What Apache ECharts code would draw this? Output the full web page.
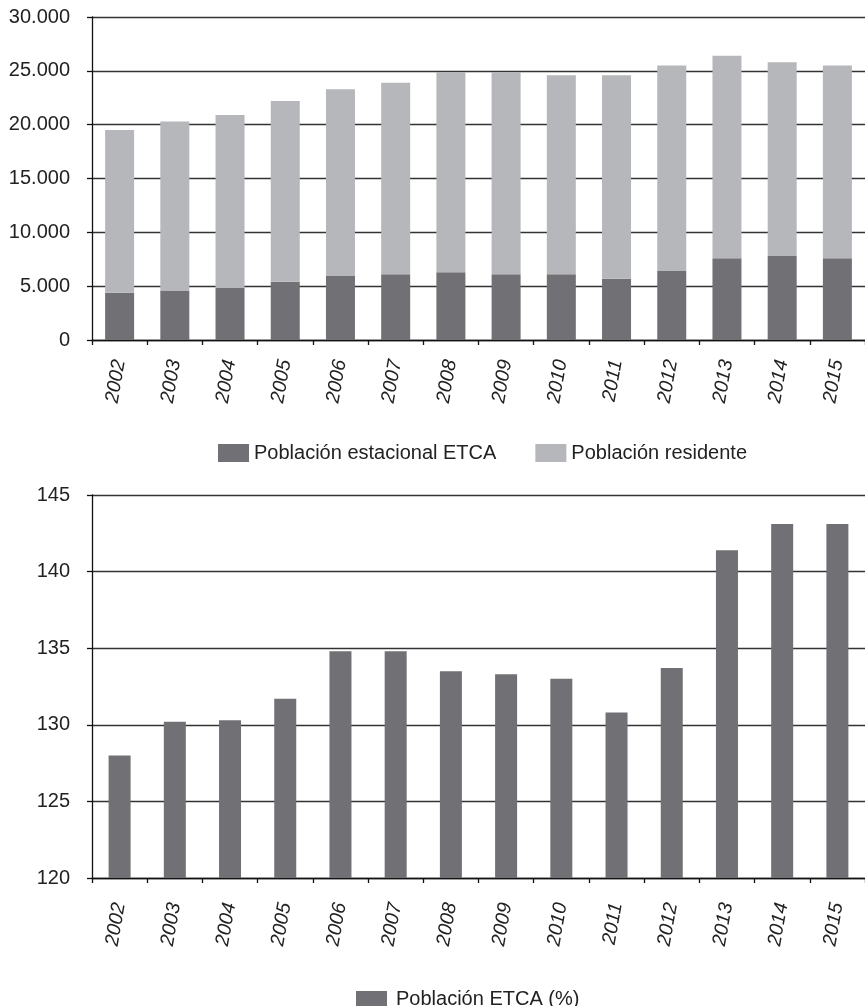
<!DOCTYPE html>
<html>
<head>
<meta charset="utf-8">
<script src="https://cdn.jsdelivr.net/npm/echarts@6/dist/echarts.min.js"></script>
<style>
html,body{margin:0;padding:0;background:#fff;}
#c{width:865px;height:1006px;}
</style>
</head>
<body>
<div id="c"></div>
<script>
const years = ['2002','2003','2004','2005','2006','2007','2008','2009','2010','2011','2012','2013','2014','2015'];
const etca = [4400, 4600, 4850, 5400, 6000, 6100, 6300, 6100, 6100, 5700, 6400, 7600, 7800, 7600];
const totals = [19500, 20300, 20900, 22200, 23300, 23900, 24900, 24900, 24600, 24600, 25500, 26400, 25800, 25500];
const residente = totals.map((t, i) => t - etca[i]);
const etcaPct = [128.0, 130.2, 130.3, 131.7, 134.8, 134.8, 133.5, 133.3, 133.0, 130.8, 133.7, 141.4, 143.1, 143.1];

const FONT = '"Liberation Sans", Arial, Helvetica, sans-serif';
const DARK = '#707075';
const LIGHT = '#b6b7ba';

const chart = echarts.init(document.getElementById('c'), null, {renderer: 'canvas'});

function xAxis(gi, margin) {
  return {
    type: 'category', gridIndex: gi, data: years,
    axisLine: {lineStyle: {color: '#111', width: 1.3}},
    axisTick: {show: true, inside: false, length: 5, alignWithLabel: false, lineStyle: {color: '#111', width: 1.3}},
    axisLabel: {rotate: 80, fontStyle: 'italic', fontFamily: FONT, fontSize: 19.5, color: '#222', margin: margin, interval: 0}
  };
}
function yAxis(gi, min, max, interval, fmt) {
  return {
    type: 'value', gridIndex: gi, min: min, max: max, interval: interval,
    axisLine: {show: true, lineStyle: {color: '#111', width: 1.3}},
    axisTick: {show: true, inside: false, length: 5, lineStyle: {color: '#111', width: 1.3}},
    splitLine: {show: true, lineStyle: {color: '#333', width: 1.4}},
    axisLabel: {fontFamily: FONT, fontSize: 20, color: '#222', margin: 22, formatter: fmt}
  };
}

chart.setOption({
  animation: false,
  backgroundColor: '#fff',
  grid: [
    {left: 92, right: 0, top: 17, height: 323},
    {left: 92, right: 0, top: 495, height: 383}
  ],
  legend: [
    {
      data: ['Población estacional ETCA', 'Población residente'],
      top: 438, left: 213, itemWidth: 31, itemHeight: 18, itemGap: 39,
      icon: 'rect',
      textStyle: {fontFamily: FONT, fontSize: 20, color: '#222'}
    },
    {
      data: ['Población ETCA (%)'],
      top: 984, left: 351, itemWidth: 31, itemHeight: 16,
      icon: 'rect',
      textStyle: {fontFamily: FONT, fontSize: 20, color: '#222', padding: [0, 0, 0, 4]}
    }
  ],
  xAxis: [xAxis(0, 20), xAxis(1, 25)],
  yAxis: [
    yAxis(0, 0, 30000, 5000, v => v === 0 ? '0' : (v / 1000).toFixed(3)),
    yAxis(1, 120, 145, 5, v => String(v))
  ],
  series: [
    {
      name: 'Población estacional ETCA', type: 'bar', stack: 'p', xAxisIndex: 0, yAxisIndex: 0,
      data: etca, barWidth: 29, itemStyle: {color: DARK}
    },
    {
      name: 'Población residente', type: 'bar', stack: 'p', xAxisIndex: 0, yAxisIndex: 0,
      data: residente, barWidth: 29, itemStyle: {color: LIGHT}
    },
    {
      name: 'Población ETCA (%)', type: 'bar', xAxisIndex: 1, yAxisIndex: 1,
      data: etcaPct, barWidth: 22, itemStyle: {color: DARK}
    }
  ]
});
</script>
</body>
</html>
